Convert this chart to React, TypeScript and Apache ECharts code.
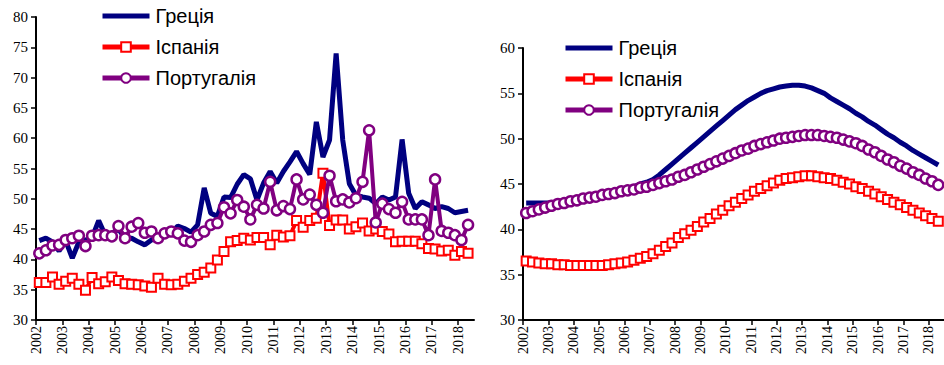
import React, { useEffect, useRef } from 'react';
import * as echarts from 'echarts';

// Tick labels (years)
const yearTicks = [2002, 2003, 2004, 2005, 2006, 2007, 2008, 2009, 2010, 2011, 2012, 2013, 2014, 2015, 2016, 2017, 2018];

// Quarters 2002 Q1 … 2018 Q2
const quarterYears = [
  2002, 2002, 2002, 2002, 2003, 2003, 2003, 2003, 2004, 2004, 2004, 2004,
  2005, 2005, 2005, 2005, 2006, 2006, 2006, 2006, 2007, 2007, 2007, 2007,
  2008, 2008, 2008, 2008, 2009, 2009, 2009, 2009, 2010, 2010, 2010, 2010,
  2011, 2011, 2011, 2011, 2012, 2012, 2012, 2012, 2013, 2013, 2013, 2013,
  2014, 2014, 2014, 2014, 2015, 2015, 2015, 2015, 2016, 2016, 2016, 2016,
  2017, 2017, 2017, 2017, 2018, 2018,
];
const quarterNums = [
  1, 2, 3, 4, 1, 2, 3, 4, 1, 2, 3, 4, 1, 2, 3, 4, 1, 2, 3, 4, 1, 2, 3, 4,
  1, 2, 3, 4, 1, 2, 3, 4, 1, 2, 3, 4, 1, 2, 3, 4, 1, 2, 3, 4, 1, 2, 3, 4,
  1, 2, 3, 4, 1, 2, 3, 4, 1, 2, 3, 4, 1, 2, 3, 4, 1, 2,
];

const seriesNames = ['Греція', 'Іспанія', 'Португалія'];

// Left panel: actual quarterly values
const greeceActual = [
  43.1, 43.5, 42.9, 41.4, 43.1, 40.2, 42.9, 43.2, 43.6, 46.4,
  44.0, 44.3, 45.0, 43.5, 43.5, 42.9, 42.4, 43.2, 43.8, 44.3,
  44.4, 45.5, 45.1, 44.5, 45.7, 51.8, 47.6, 47.1, 50.3, 50.2,
  52.4, 54.0, 53.3, 49.8, 52.6, 54.5, 52.6, 54.5, 56.1, 57.8,
  55.8, 54.0, 62.7, 56.9, 59.7, 74.0, 59.7, 52.5, 50.6, 50.3,
  50.1, 49.2, 50.3, 49.8, 50.3, 59.8, 50.9, 48.4, 49.5, 49.0,
  48.4, 48.7, 48.4, 47.7, 47.9, 48.1,
];
const spainActual = [
  36.2, 36.2, 37.1, 35.9, 36.4, 36.9, 35.9, 34.9, 37.0, 36.0,
  36.3, 37.1, 36.5, 36.0, 35.9, 35.8, 35.6, 35.4, 36.9, 35.9,
  35.8, 35.9, 36.4, 36.9, 37.5, 37.9, 38.6, 39.9, 41.3, 42.9,
  43.1, 43.5, 43.2, 43.6, 43.6, 42.4, 44.0, 43.7, 43.9, 46.4,
  45.3, 46.4, 46.8, 54.2, 45.6, 46.5, 46.5, 45.0, 45.4, 46.0,
  44.7, 45.0, 44.6, 44.2, 42.9, 43.0, 43.0, 43.0, 42.6, 41.8,
  41.7, 41.4, 41.5, 40.7, 41.3, 41.0,
];
const portugalActual = [
  41.0, 41.5, 42.3, 42.4, 43.2, 43.5, 43.9, 42.2, 43.9, 44.0,
  44.0, 43.8, 45.5, 43.5, 45.4, 46.0, 44.4, 44.6, 43.5, 44.3,
  44.6, 44.3, 43.1, 42.9, 44.0, 44.6, 45.7, 46.0, 48.6, 47.6,
  49.8, 48.7, 46.6, 49.0, 48.4, 52.8, 48.1, 48.8, 48.3, 53.2,
  49.9, 50.7, 49.0, 47.7, 53.8, 49.6, 49.9, 49.4, 50.1, 52.8,
  61.3, 46.1, 49.2, 48.3, 47.7, 49.5, 46.6, 46.6, 46.6, 44.0,
  53.2, 44.7, 44.4, 44.0, 43.2, 45.7,
];

// Right panel: trend values
const greeceTrend = [
  42.9, 42.9, 42.9, 42.9, 42.9, 43.0, 43.0, 43.0, 43.1, 43.2,
  43.3, 43.4, 43.6, 43.8, 44.0, 44.2, 44.5, 44.7, 45.0, 45.2,
  45.5, 46.0, 46.6, 47.2, 47.8, 48.4, 49.0, 49.6, 50.2, 50.8,
  51.4, 52.0, 52.6, 53.2, 53.7, 54.2, 54.6, 55.0, 55.3, 55.5,
  55.7, 55.8, 55.9, 55.9, 55.8, 55.6, 55.3, 55.0, 54.5, 54.1,
  53.7, 53.3, 52.8, 52.4, 51.9, 51.5, 51.0, 50.5, 50.1, 49.6,
  49.2, 48.7, 48.3, 47.9, 47.5, 47.1,
];
const spainTrend = [
  36.5, 36.4, 36.3, 36.2, 36.2, 36.1, 36.1, 36.0, 36.0, 36.0,
  36.0, 36.0, 36.0, 36.1, 36.2, 36.3, 36.4, 36.6, 36.8, 37.0,
  37.3, 37.7, 38.1, 38.5, 39.1, 39.5, 39.9, 40.3, 40.8, 41.2,
  41.7, 42.1, 42.6, 43.0, 43.4, 43.8, 44.2, 44.5, 44.8, 45.1,
  45.4, 45.6, 45.7, 45.8, 45.9, 45.9, 45.8, 45.7, 45.6, 45.4,
  45.2, 45.0, 44.7, 44.5, 44.2, 43.9, 43.6, 43.3, 43.0, 42.7,
  42.4, 42.1, 41.8, 41.5, 41.2, 40.9,
];
const portugalTrend = [
  41.8, 42.0, 42.2, 42.4, 42.6, 42.8, 42.9, 43.1, 43.2, 43.4,
  43.5, 43.6, 43.8, 43.9, 44.0, 44.2, 44.3, 44.4, 44.6, 44.7,
  44.9, 45.1, 45.3, 45.5, 45.8, 46.0, 46.3, 46.6, 46.9, 47.2,
  47.5, 47.8, 48.1, 48.4, 48.7, 48.9, 49.2, 49.4, 49.6, 49.8,
  50.0, 50.1, 50.2, 50.3, 50.4, 50.4, 50.4, 50.3, 50.2, 50.1,
  49.9, 49.7, 49.5, 49.2, 48.8, 48.5, 48.1, 47.7, 47.4, 47.0,
  46.7, 46.3, 46.0, 45.6, 45.3, 44.9,
];

const NAVY = '#000080';
const RED = '#ff0000';
const PURPLE = '#800080';

function pairs(values: number[]) {
  return values.map((v, i) => [quarterYears[i] + (quarterNums[i] - 0.5) / 4, v]);
}

function xAxisFor(gridIndex: number) {
  return {
    type: 'value',
    gridIndex,
    min: 2002,
    max: 2018.6,
    interval: 1,
    splitLine: { show: false },
    axisLine: { show: true, onZero: false, lineStyle: { color: '#000', width: 2 } },
    axisTick: { show: true, customValues: yearTicks, length: 5, lineStyle: { color: '#000', width: 1.5 } },
    axisLabel: {
      customValues: yearTicks,
      rotate: 90,
      margin: 6,
      color: '#000',
      fontFamily: 'Liberation Serif',
      fontSize: 14,
      formatter: (v: number) => String(v),
    },
  };
}

function yAxisFor(gridIndex: number, max: number) {
  return {
    type: 'value',
    gridIndex,
    min: 30,
    max,
    interval: 5,
    splitLine: { show: false },
    axisLine: { show: true, onZero: false, lineStyle: { color: '#000', width: 2 } },
    axisTick: { show: true, length: 5, lineStyle: { color: '#000', width: 1.5 } },
    axisLabel: { margin: 8, color: '#000', fontFamily: 'Liberation Serif', fontSize: 15 },
  };
}

function seriesFor(idx: number, g: number[], s: number[], p: number[], gw: number) {
  return [
    {
      type: 'line', name: seriesNames[0], xAxisIndex: idx, yAxisIndex: idx,
      data: pairs(g), symbol: 'none', showSymbol: false,
      lineStyle: { color: NAVY, width: gw }, itemStyle: { color: NAVY },
    },
    {
      type: 'line', name: seriesNames[1], xAxisIndex: idx, yAxisIndex: idx,
      data: pairs(s), symbol: 'rect', symbolSize: 9,
      lineStyle: { color: RED, width: 4 },
      itemStyle: { color: '#fff', borderColor: RED, borderWidth: 2 },
    },
    {
      type: 'line', name: seriesNames[2], xAxisIndex: idx, yAxisIndex: idx,
      data: pairs(p), symbol: 'circle', symbolSize: 10,
      lineStyle: { color: PURPLE, width: 4 },
      itemStyle: { color: '#fff', borderColor: PURPLE, borderWidth: 2.5 },
    },
  ];
}

function legendFor(left: number, top: number) {
  return {
    orient: 'vertical',
    left,
    top,
    padding: 0,
    itemWidth: 47,
    itemHeight: 12,
    itemGap: 11,
    selectedMode: false,
    data: [
      { name: seriesNames[0], itemStyle: { opacity: 0 }, lineStyle: { width: 5, color: NAVY, opacity: 1 } },
      { name: seriesNames[1], lineStyle: { width: 5, color: RED } },
      { name: seriesNames[2], lineStyle: { width: 5, color: PURPLE } },
    ],
    textStyle: { fontSize: 20, fontFamily: 'Liberation Sans', color: '#000', padding: [0, 0, 0, 1] },
  };
}

export default function App() {
  const ref = useRef<HTMLDivElement>(null);
  useEffect(() => {
    document.body.style.margin = '0';
    if (!ref.current) return;
    const chart = echarts.init(ref.current, null, { renderer: 'svg' });
    chart.setOption({
      animation: false,
      backgroundColor: '#fff',
      grid: [
        { left: 36, top: 17, width: 438, height: 303 },
        { left: 523, top: 48, width: 433, height: 272 },
      ],
      xAxis: [xAxisFor(0), xAxisFor(1)],
      yAxis: [yAxisFor(0, 80), yAxisFor(1, 60)],
      legend: [legendFor(100, 6), legendFor(563, 38)],
      series: [
        ...seriesFor(0, greeceActual, spainActual, portugalActual, 5),
        ...seriesFor(1, greeceTrend, spainTrend, portugalTrend, 5),
      ],
    });
    return () => chart.dispose();
  }, []);
  return <div ref={ref} style={{ width: 944, height: 365 }} />;
}
